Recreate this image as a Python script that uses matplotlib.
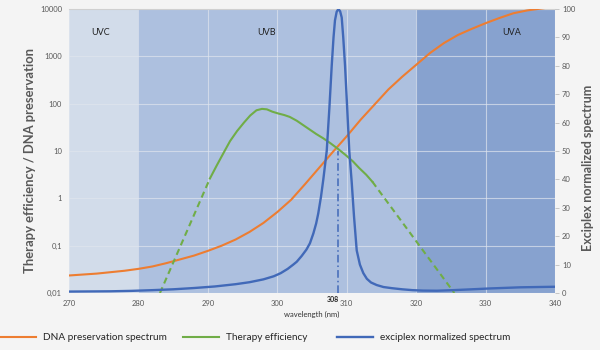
import numpy as np
import matplotlib
matplotlib.use("Agg")
import matplotlib.pyplot as plt
from matplotlib.ticker import FixedLocator, FuncFormatter, NullLocator

plt.rcParams['font.family'] = ['Lato', 'DejaVu Sans']

# ---- data -------------------------------------------------------------
# DNA preservation spectrum (left, log axis), stored as log10 values
dna_wl = [270, 272, 274, 276, 278, 280, 282, 284, 286, 288, 290, 292, 294,
          296, 298, 300, 302, 304, 306, 308, 310, 312, 314, 316, 318, 320,
          322, 324, 326, 328, 330, 332, 334, 336, 338, 340]
dna_log = [-1.63, -1.61, -1.59, -1.56, -1.53, -1.49, -1.44, -1.37, -1.29,
           -1.21, -1.11, -1.00, -0.87, -0.71, -0.52, -0.29, -0.03, 0.30,
           0.64, 0.98, 1.31, 1.66, 1.98, 2.30, 2.57, 2.82, 3.07, 3.28, 3.45,
           3.58, 3.70, 3.81, 3.91, 3.97, 4.01, 4.05]

# Therapy efficiency (left, log axis); measured only between 290.3 and 313.7 nm
ther_wl = [283.1, 290.3, 291.3, 292.3, 293.2, 294.2, 295.2, 296.1, 297.0,
           297.8, 298.5, 299.3, 300.2, 301.0, 301.8, 302.8, 303.7, 304.6,
           305.6, 306.6, 307.6, 308.7, 309.8, 310.9, 311.8, 312.8, 313.7,
           325.5]
ther_log = [-2.0, 0.42, 0.70, 0.97, 1.21, 1.42, 1.60, 1.75, 1.86, 1.89,
            1.88, 1.83, 1.79, 1.76, 1.72, 1.64, 1.55, 1.46, 1.36, 1.27, 1.17,
            1.05, 0.92, 0.78, 0.64, 0.50, 0.35, -2.0]
ther_measured = (290.3, 313.7)

# Exciplex normalized spectrum (right axis, %)
exc_wl = [270, 273, 276, 279, 282, 285, 288, 291, 294, 296, 298, 299.5,
          300.5, 301.5, 302.3, 302.8, 303.5, 304.2, 304.7, 305.2, 305.6,
          305.9, 306.3, 306.63, 307.12, 307.5, 307.84, 308.1, 308.31, 308.55,
          308.8, 309.05, 309.28, 309.5, 309.76, 310.05, 310.37, 310.72,
          311.05, 311.44, 311.9, 312.39, 312.9, 313.5, 314.32, 315.3, 316.5,
          318, 319.5, 321, 323, 325.3, 328, 330.6, 335, 340]
exc_val = [0.5, 0.55, 0.6, 0.75, 1.0, 1.3, 1.75, 2.3, 3.1, 3.8, 4.8, 5.9,
           7.0, 8.5, 10.0, 11.0, 13.0, 15.3, 17.5, 21, 24.5, 28, 34, 40, 50,
           65, 80, 90, 96, 99, 100, 99.2, 97, 90, 80, 66, 50, 39, 27, 15, 10,
           7, 5, 3.7, 2.8, 2.1, 1.7, 1.3, 1.0, 0.85, 0.8, 1.0, 1.3, 1.6, 2.0,
           2.2]
peak_nm = 308

# UV bands
bands = [("UVC", 270, 280), ("UVB", 280, 320), ("UVA", 320, 340)]
band_colors = ["#d2dcea", "#adc0df", "#87a2cf"]

x_ticks = [270, 280, 290, 300, 310, 320, 330, 340]
y_ticks = [0.01, 0.1, 1, 10, 100, 1000, 10000]
y2_ticks = list(range(0, 101, 10))

# ---- colours ----------------------------------------------------------
C_ORANGE = "#ed7d31"
C_GREEN = "#70ad47"
C_BLUE = "#4169b8"
C_TEXT = "#595959"

fig = plt.figure(figsize=(6, 3.5), dpi=100, facecolor="#f4f4f4")
ax = fig.add_axes([69 / 600, 57 / 350, 486 / 600, 284 / 350])
ax.set_facecolor("none")

for (name, x0, x1), col in zip(bands, band_colors):
    ax.axvspan(x0, x1, color=col, lw=0, zorder=0)

band_label_x = [0.064, 0.407, 0.91]
for (name, x0, x1), lx in zip(bands, band_label_x):
    ax.text(lx, 0.919, name, transform=ax.transAxes, ha="center",
            va="center", fontsize=6.5, color="#222222")

ax.set_xlim(270, 340)
ax.set_yscale("log")
ax.set_ylim(0.01, 10000)
ax.xaxis.set_major_locator(FixedLocator(x_ticks))
ax.yaxis.set_major_locator(FixedLocator(y_ticks))
ax.yaxis.set_minor_locator(NullLocator())
ax.yaxis.set_major_formatter(FuncFormatter(
    lambda v, p: (f"{v:g}" if v >= 1 else f"{v:g}".replace(".", ","))))
ax.grid(True, color="#dfe5ee", lw=0.8, alpha=0.7, zorder=1)
ax.tick_params(axis="both", length=0, labelsize=5.5, colors=C_TEXT, pad=5)
for s in ax.spines.values():
    s.set_visible(False)
ax.spines["top"].set_visible(True)
ax.spines["top"].set_color("#d0d0d0")
ax.spines["top"].set_linewidth(0.8)

# DNA preservation
dna_line, = ax.plot(dna_wl, np.power(10.0, dna_log), color=C_ORANGE, lw=1.5,
                    zorder=3, label="DNA preservation spectrum")

# Therapy efficiency: solid where measured, dashed extrapolation outside
tw = np.array(ther_wl)
tv = np.power(10.0, np.array(ther_log))
lo, hi = ther_measured
left = tw <= lo
mid = (tw >= lo) & (tw <= hi)
right = tw >= hi
ther_line, = ax.plot(tw[mid], tv[mid], color=C_GREEN, lw=1.5, zorder=3,
                     label="Therapy efficiency")
ax.plot(tw[left], tv[left], color=C_GREEN, lw=1.5, ls=(0, (3, 2)), zorder=3)
ax.plot(tw[right], tv[right], color=C_GREEN, lw=1.5, ls=(0, (3, 2)), zorder=3)

ax.set_ylabel("Therapy efficiency / DNA preservation", fontsize=9.4,
              fontweight="bold", color=C_TEXT)
ax.yaxis.set_label_coords(-0.068, 0.468)
ax.set_xlabel("wavelength (nm)", fontsize=5.5, color="#333333", labelpad=3)

# Exciplex spectrum on the secondary axis
ax2 = ax.twinx()
ax2.set_ylim(0, 100)
ax2.yaxis.set_major_locator(FixedLocator(y2_ticks))
ax2.tick_params(axis="y", length=3, width=0.6, color="#bfbfbf",
                labelsize=5.5, labelcolor=C_TEXT, pad=2)
for s in ax2.spines.values():
    s.set_visible(False)
exc_line, = ax2.plot(exc_wl, exc_val, color=C_BLUE, lw=1.7, zorder=4,
                     label="exciplex normalized spectrum")
i_peak = int(np.argmax(exc_val))
ax2.plot([exc_wl[i_peak]] * 2, [0, exc_val[i_peak] / 2], color=C_BLUE,
         lw=1.1, ls=(0, (5, 2, 1, 2)), zorder=4)
ax2.set_ylabel("Exciplex normalized spectrum", fontsize=9,
               fontweight="bold", color=C_TEXT, rotation=90)
ax2.yaxis.set_label_coords(1.056, 0.44)

ax.text(peak_nm, -0.012, str(peak_nm), transform=ax.get_xaxis_transform(),
        ha="center", va="top", fontsize=5, fontweight="bold", color="#222222")

# Legend entries laid out along the bottom edge
for handle, xpos in [(dna_line, 0.0), (ther_line, 0.305), (exc_line, 0.562)]:
    fig.legend(handles=[handle], loc="center left",
               bbox_to_anchor=(xpos, 1 - 338 / 350), frameon=False,
               borderpad=0, borderaxespad=0, handlelength=3.6,
               handletextpad=0.7, fontsize=7.2, labelcolor="#262626")

fig.savefig("out.png", dpi=100, facecolor=fig.get_facecolor())
